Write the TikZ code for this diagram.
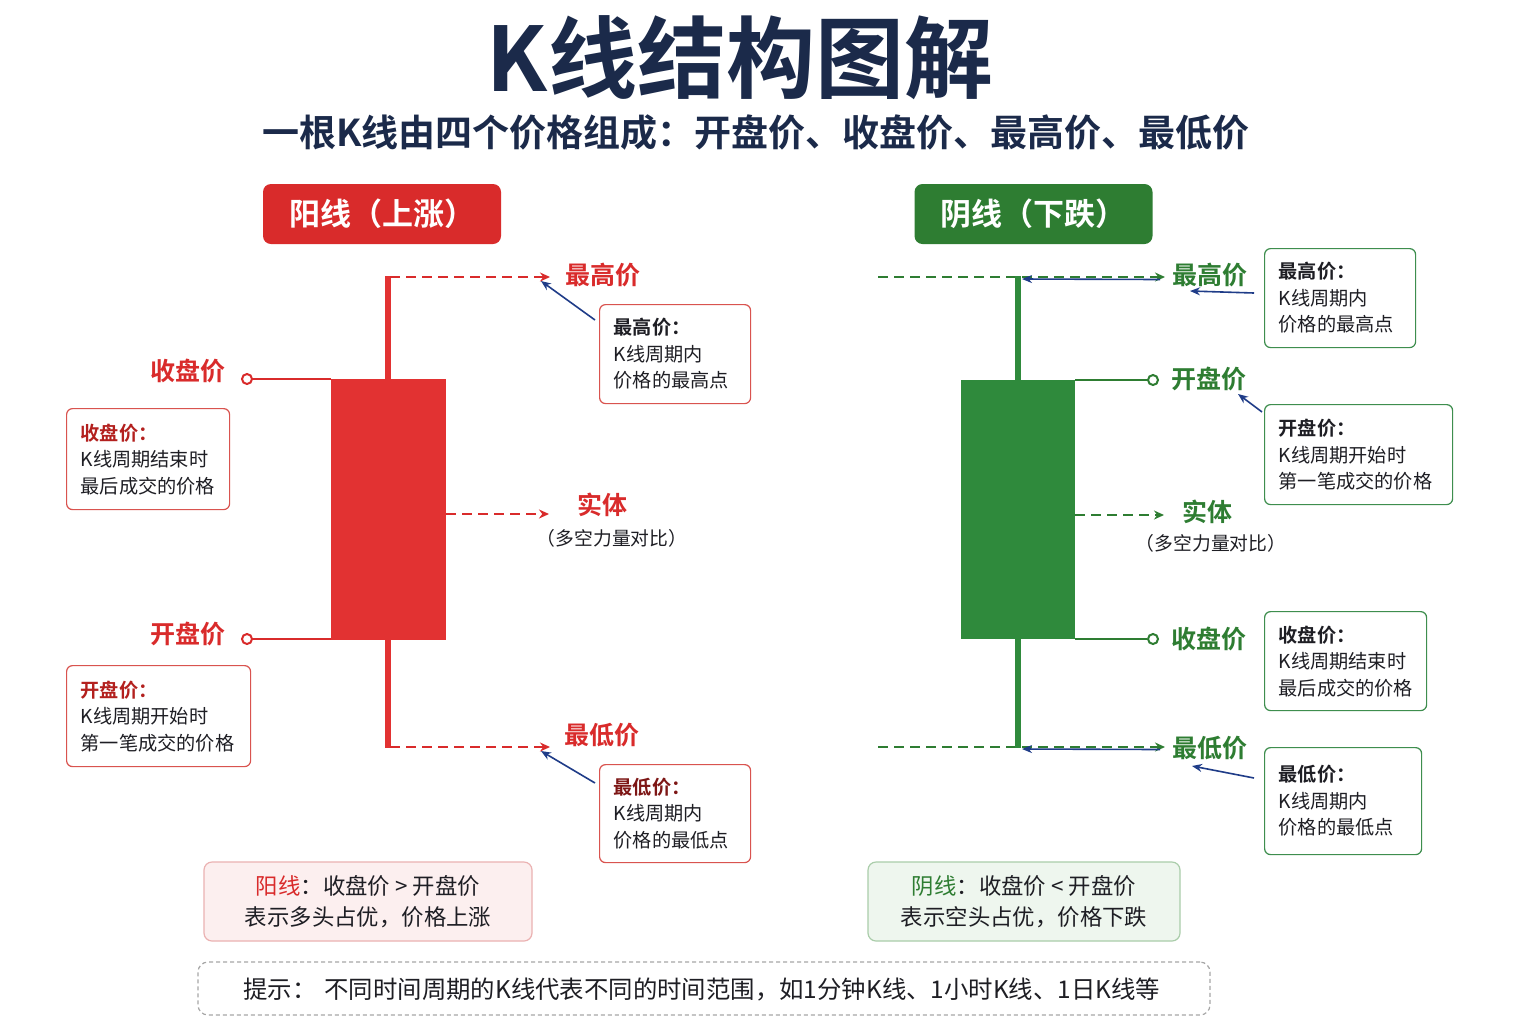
\documentclass[tikz,border=0pt]{standalone}
\usepackage{fontspec}
\setmainfont{Noto Sans CJK SC}[BoldFont={Noto Sans CJK SC Bold}]
\usetikzlibrary{arrows.meta}
\definecolor{navy}{HTML}{1B2A4A}
\definecolor{kred}{HTML}{D92B2B}
\definecolor{kredbody}{HTML}{E23232}
\definecolor{kdred}{HTML}{B3201E}
\definecolor{kgreen}{HTML}{2E7D32}
\definecolor{kgreenbody}{HTML}{2F8A3C}
\definecolor{arrnavy}{HTML}{1F3C88}
\definecolor{txt}{HTML}{1E1E24}
\definecolor{rbdr}{HTML}{D9534F}
\definecolor{gbdr}{HTML}{3E8E4E}
\definecolor{pinkfill}{HTML}{FCEFEF}
\definecolor{pinkbdr}{HTML}{EBB2B2}
\definecolor{mintfill}{HTML}{EEF6EE}
\definecolor{mintbdr}{HTML}{AACDAA}
\begin{document}
\begin{tikzpicture}[x=0.5pt,y=-0.5pt,
  lbl/.style={font=\bfseries\fontsize{12.5}{14}\selectfont, inner sep=0pt},
  sublbl/.style={font=\fontsize{9.4}{11}\selectfont, text=txt, inner sep=0pt},
  callout/.style={rounded corners=3pt, line width=0.6pt, fill=white, align=left,
    inner xsep=7pt, inner ysep=0pt, anchor=north west,
    font=\fontsize{9.6}{13.25}\selectfont, text=txt},
  hdr/.style={rounded corners=4pt, text=white, font=\bfseries\fontsize{15.5}{18}\selectfont,
    minimum width=119pt, minimum height=30pt, inner sep=0pt},
  conn/.style={line width=1pt},
  wick/.style={line width=2.6pt},
  dashr/.style={line width=1pt, dash pattern=on 5pt off 3pt, -{Stealth[length=5pt,width=4.5pt]}},
  navyarr/.style={arrnavy, line width=0.8pt, -{Stealth[length=5pt,width=4pt]}},
  pinc/.style={circle, draw, line width=1pt, fill=white, minimum size=5pt, inner sep=0pt},
  summ/.style={rounded corners=4pt, line width=0.6pt, align=center, inner sep=0pt,
    font=\fontsize{11.2}{15.75}\selectfont, text=txt, minimum height=39.5pt}
]
\useasboundingbox (0,0) rectangle (1536,1024);
\fill[white] (0,0) rectangle (1536,1024);

% titles
\node[font=\bfseries\fontsize{44.5}{50}\selectfont, text=navy, inner sep=0pt] (title) at (740,58) {K线结构图解};
\node[font=\bfseries\fontsize{18.5}{22}\selectfont, text=navy, inner sep=0pt] (subtitle) at (756,132)
  {一根K线由四个价格组成：开盘价、收盘价、最高价、最低价};

% headers
\node[hdr, fill=kred] (hdrL) at (382,214) {阳线（上涨）};
\node[hdr, fill=kgreen] (hdrR) at (1033.5,214) {阴线（下跌）};

% ===== left (red) candle =====
\coordinate (LT) at (388,276);
\coordinate (LB) at (388,748);
\draw[wick, kredbody] (LT) -- (LB);
\node[fill=kredbody, minimum width=57.5pt, minimum height=130.5pt, inner sep=0pt] (Lbody) at (388.5,509.5) {};

\coordinate (LTs) at (390,277);
\coordinate (LTa) at (550,277);
\draw[dashr, kred] (LTs) -- (LTa);
\coordinate (LBs) at (390,747);
\coordinate (LBa) at (550,747);
\draw[dashr, kred] (LBs) -- (LBa);
\coordinate (LSa) at (549,514);
\draw[dashr, kred] (Lbody.east |- LSa) -- (LSa);

\node[pinc, draw=kred] (Lcpin) at (247,379) {};
\draw[conn, kred] (Lcpin) -- (Lcpin -| Lbody.west);
\node[pinc, draw=kred] (Lopin) at (247,639) {};
\draw[conn, kred] (Lopin) -- (Lopin -| Lbody.west);

\node[lbl, text=kred] (LhiL) at (603,275) {最高价};
\node[lbl, text=kred, anchor=east] (LclL) at (226,371) {收盘价};
\node[lbl, text=kred, anchor=east] (LopL) at (226,634) {开盘价};
\node[lbl, text=kred] (LstL) at (602,505) {实体};
\node[sublbl] (LstS) at (612,538) {（多空力量对比）};
\node[lbl, text=kred] (LloL) at (602,735) {最低价};

\node[callout, draw=rbdr, text width=61.5pt, minimum height=49.5pt] (LhiBox) at (599,304)
  {\textbf{最高价：}\\K线周期内\\价格的最高点};
\node[callout, draw=rbdr, text width=67.5pt, minimum height=50.5pt] (LclBox) at (66,408)
  {\textbf{\textcolor{kdred}{收盘价：}}\\K线周期结束时\\最后成交的价格};
\node[callout, draw=rbdr, text width=78pt, minimum height=50.5pt] (LopBox) at (66,665)
  {\textbf{\textcolor{kdred}{开盘价：}}\\K线周期开始时\\第一笔成交的价格};
\node[callout, draw=rbdr, text width=61.5pt, minimum height=49pt] (LloBox) at (599,764)
  {\textbf{\textcolor{kdred!70!black}{最低价：}}\\K线周期内\\价格的最低点};

\coordinate (LhiAs) at (595,320);
\coordinate (LhiAt) at (541,281);
\draw[navyarr] (LhiAs) -- (LhiAt);
\coordinate (LloAs) at (595,783);
\coordinate (LloAt) at (541,751);
\draw[navyarr] (LloAs) -- (LloAt);

% ===== right (green) candle =====
\coordinate (RT) at (1018,276);
\coordinate (RB) at (1018,748);
\coordinate (RTs) at (878,277);
\coordinate (RTa) at (1165,277);
\draw[dashr, kgreen] (RTs) -- (RTa);
\coordinate (RBs) at (878,747);
\coordinate (RBa) at (1165,747);
\draw[dashr, kgreen] (RBs) -- (RBa);
\draw[wick, kgreenbody] (RT) -- (RB);
\node[fill=kgreenbody, minimum width=57pt, minimum height=129.5pt, inner sep=0pt] (Rbody) at (1018,509.5) {};
\coordinate (RSa) at (1164,515);
\draw[dashr, kgreen] (Rbody.east |- RSa) -- (RSa);

\node[pinc, draw=kgreen] (Ropin) at (1153,380) {};
\draw[conn, kgreen] (Ropin -| Rbody.east) -- (Ropin);
\node[pinc, draw=kgreen] (Rcpin) at (1153,639) {};
\draw[conn, kgreen] (Rcpin -| Rbody.east) -- (Rcpin);

\node[lbl, text=kgreen] (RhiL) at (1210,275) {最高价};
\node[lbl, text=kgreen] (RopL) at (1209,379) {开盘价};
\node[lbl, text=kgreen] (RstL) at (1207,512) {实体};
\node[sublbl] (RstS) at (1211,543) {（多空力量对比）};
\node[lbl, text=kgreen] (RclL) at (1209,639) {收盘价};
\node[lbl, text=kgreen] (RloL) at (1210,748) {最低价};

\node[callout, draw=gbdr, text width=61.5pt, minimum height=49.5pt] (RhiBox) at (1264,248)
  {\textbf{最高价：}\\K线周期内\\价格的最高点};
\node[callout, draw=gbdr, text width=80pt, minimum height=50pt] (RopBox) at (1264,404)
  {\textbf{开盘价：}\\K线周期开始时\\第一笔成交的价格};
\node[callout, draw=gbdr, text width=67pt, minimum height=49.5pt] (RclBox) at (1264,611)
  {\textbf{收盘价：}\\K线周期结束时\\最后成交的价格};
\node[callout, draw=gbdr, text width=64.5pt, minimum height=53.5pt] (RloBox) at (1264,747)
  {\textbf{最低价：}\\K线周期内\\价格的最低点};

\coordinate (RhiAs) at (1160,279.5);
\coordinate (RhiAt) at (1022,279);
\draw[navyarr] (RhiAs) -- (RhiAt);
\coordinate (RhiBs) at (1254,293);
\coordinate (RhiBt) at (1190,291);
\draw[navyarr] (RhiBs) -- (RhiBt);
\coordinate (RopAs) at (1262,412);
\coordinate (RopAt) at (1238,394);
\draw[navyarr] (RopAs) -- (RopAt);
\coordinate (RloAs) at (1160,749.5);
\coordinate (RloAt) at (1022,749);
\draw[navyarr] (RloAs) -- (RloAt);
\coordinate (RloBs) at (1254,778);
\coordinate (RloBt) at (1192,766);
\draw[navyarr] (RloBs) -- (RloBt);

% ===== summaries =====
\node[summ, fill=pinkfill, draw=pinkbdr, minimum width=164pt] (sumL) at (368,901.5)
  {\textcolor{kred}{阳线}：收盘价 > 开盘价\\表示多头占优，价格上涨};
\node[summ, fill=mintfill, draw=mintbdr, minimum width=156pt] (sumR) at (1024,901.5)
  {\textcolor{kgreen}{阴线}：收盘价 < 开盘价\\表示空头占优，价格下跌};

% ===== tip =====
\node[draw=gray!70, dash pattern=on 2pt off 1.5pt, line width=0.6pt, rounded corners=5pt,
  minimum width=506pt, minimum height=26.5pt, inner sep=0pt] (tipBox) at (704,988.5) {};
\node[anchor=west, inner sep=0pt, font=\fontsize{12.2}{14}\selectfont, text=txt] (tipText) at (243,989)
  {提示：\hspace{4pt}不同时间周期的K线代表不同的时间范围，如1分钟K线、1小时K线、1日K线等};
\end{tikzpicture}
\end{document}
